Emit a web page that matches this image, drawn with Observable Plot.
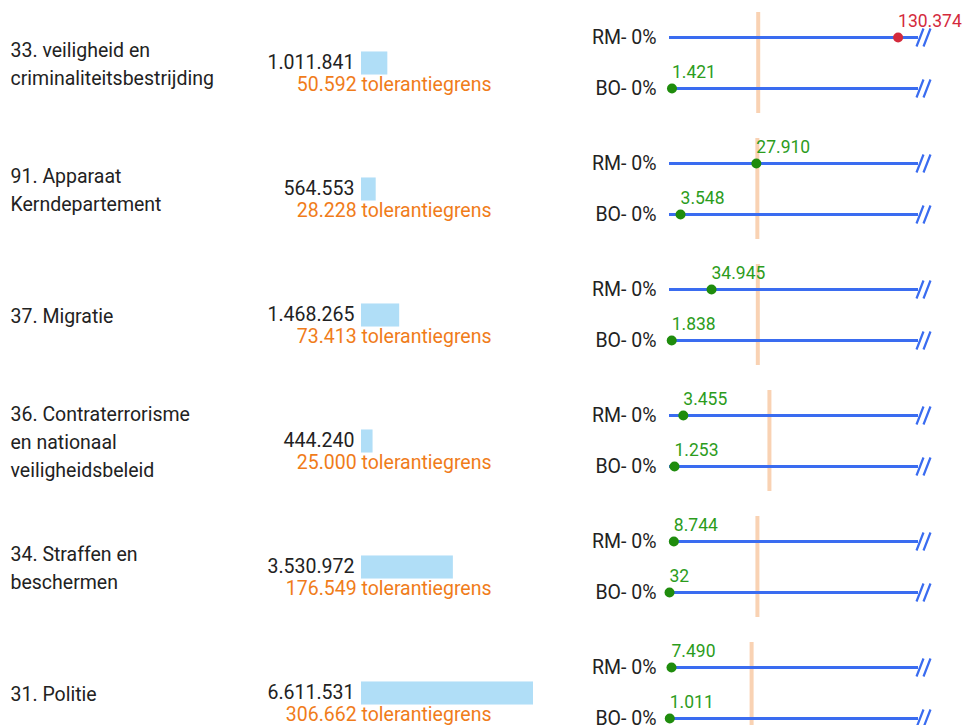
<!DOCTYPE html>
<html>
<head>
<meta charset="utf-8">
<script src="https://cdn.jsdelivr.net/npm/d3@7"></script>
<script src="https://cdn.jsdelivr.net/npm/@observablehq/plot@0.6"></script>
<style>
  html, body { margin: 0; padding: 0; background: #fff; overflow: hidden; }
  #chart { position: relative; width: 963px; height: 725px; overflow: hidden; font-family: Roboto, sans-serif; color: #222; }
  #chart svg { position: absolute; overflow: visible; }
</style>
</head>
<body>
<div id="chart"></div>
<script>
// ---- data ----
const labels = [
  "33. veiligheid en\ncriminaliteitsbestrijding",
  "91. Apparaat\nKerndepartement",
  "37. Migratie",
  "36. Contraterrorisme\nen nationaal\nveiligheidsbeleid",
  "34. Straffen en\nbeschermen",
  "31. Politie"
];
const begroting = [1011841, 564553, 1468265, 444240, 3530972, 6611531];
const tolerantiegrens = [50592, 28228, 73413, 25000, 176549, 306662];
const rmWaarden = [130374, 27910, 34945, 3455, 8744, 7490];
const boWaarden = [1421, 3548, 1838, 1253, 32, 1011];
const schaalMax = [142000, 80000, 207000, 62300, 500000, 930000];
const reeksen = ["RM", "BO"];

// ---- styling ----
const blue = "#3a6cf0";
const greenDot = "#1f8c0d";
const greenText = "#2c9c1c";
const red = "#d42a3c";
const orange = "#f07c1a";
const barFill = "#b0def7";
const tolStroke = "#f9d2b3";
const font = "Roboto, sans-serif";

const nl = d3.formatLocale({decimal: ",", thousands: ".", grouping: [3], currency: ["€", ""]});
const fmt = nl.format(",d");

const rows = labels.map((label, i) => ({
  id: i, label, begroting: begroting[i], tol: tolerantiegrens[i]
}));

const chart = document.getElementById("chart");
const rowH = 126;

// left part: labels, amounts, bars
const left = Plot.plot({
  width: 563, height: rowH * rows.length, margin: 0,
  style: {fontFamily: font, background: "transparent"},
  x: {domain: [0, d3.max(begroting)], range: [361, 533], axis: null},
  y: {domain: rows.map(d => d.id), range: [0, rowH * rows.length], paddingInner: 0.817, paddingOuter: 0.4085, round: false, axis: null},
  marks: [
    Plot.barX(rows, {x: "begroting", y: "id", fill: barFill}),
    Plot.text(rows, {x: 0, y: "id", text: d => fmt(d.begroting), textAnchor: "end", dx: -7, dy: -1, fontSize: 19.5, fill: "#222"}),
    Plot.text(rows, {x: 0, y: "id", text: d => fmt(d.tol) + " tolerantiegrens", textAnchor: "end", dx: 130, dy: 21.5, fontSize: 19.5, fill: orange}),
    Plot.text(rows, {frameAnchor: "left", y: "id", text: "label", textAnchor: "start", dx: 10, dy: -1, fontSize: 19.5, lineHeight: 1.436, fill: "#222"})
  ]
});
left.style.left = "0px";
left.style.top = "0px";
chart.appendChild(left);

// break symbol "//"
const breakSymbol = {
  draw(context) {
    context.moveTo(-2, 9); context.lineTo(5, -9);
    context.moveTo(5, 9); context.lineTo(12, -9);
  }
};

rows.forEach((r, i) => {
  const series = [
    {reeks: "RM", waarde: rmWaarden[i]},
    {reeks: "BO", waarde: boWaarden[i]}
  ];
  const over = d => d.waarde > r.tol;
  const p = Plot.plot({
    width: 400, height: rowH,
    marginLeft: 106, marginRight: 45, marginTop: 12, marginBottom: 13,
    style: {fontFamily: font, background: "transparent"},
    x: {domain: [0, schaalMax[i]], axis: null},
    y: {type: "point", domain: reeksen, range: [37, 88], padding: 0, axis: null},
    marks: [
      Plot.ruleX([r.tol], {stroke: tolStroke, strokeWidth: 4}),
      Plot.ruleY(series, {y: "reeks", x1: 0, x2: schaalMax[i], stroke: blue, strokeWidth: 2.8}),
      Plot.dot(series, {x: schaalMax[i], y: "reeks", symbol: breakSymbol, stroke: blue, strokeWidth: 2.2, fill: "none"}),
      Plot.axisY({tickSize: 0, tickPadding: 13, fontSize: 19.5, tickFormat: d => `${d}- 0%`, label: null, fill: "#222"}),
      Plot.dot(series.filter(d => !over(d)), {x: "waarde", y: "reeks", r: 5, fill: greenDot, stroke: null}),
      Plot.dot(series.filter(over), {x: "waarde", y: "reeks", r: 5, fill: red, stroke: null}),
      Plot.text(series.filter(d => !over(d)), {x: "waarde", y: "reeks", text: d => fmt(d.waarde), dy: -16, dx: 0, textAnchor: "start", fontSize: 17.5, fill: greenText}),
      Plot.text(series.filter(over), {x: "waarde", y: "reeks", text: d => fmt(d.waarde), dy: -16, dx: 0, textAnchor: "start", fontSize: 17.5, fill: red})
    ]
  });
  p.style.left = "563px";
  p.style.top = (rowH * i) + "px";
  chart.appendChild(p);
});
</script>
</body>
</html>
